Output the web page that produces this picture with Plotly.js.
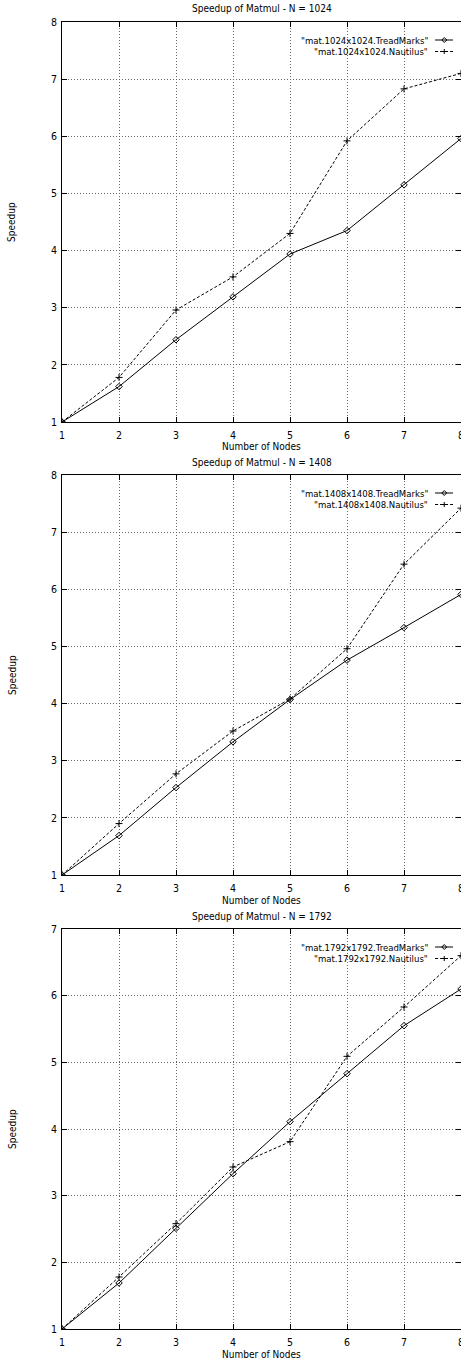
<!DOCTYPE html>
<html>
<head>
<meta charset="utf-8">
<script src="https://cdn.plot.ly/plotly-3.0.1.min.js"></script>
<style>
html,body{margin:0;padding:0;overflow:hidden;background:#fff;}
#chart{width:470px;height:1360px;}
</style>
</head>
<body>
<div id="chart"></div>
<script>
// ---- data ----
const nodes = [1, 2, 3, 4, 5, 6, 7, 8];
const xTickLabels = ["1", "2", "3", "4", "5", "6", "7", "8"];

const titles = ["Speedup of Matmul - N = 1024", "Speedup of Matmul - N = 1408", "Speedup of Matmul - N = 1792"];
const namesTreadMarks = ["\"mat.1024x1024.TreadMarks\"", "\"mat.1408x1408.TreadMarks\"", "\"mat.1792x1792.TreadMarks\""];
const namesNautilus = ["\"mat.1024x1024.Nautilus\"", "\"mat.1408x1408.Nautilus\"", "\"mat.1792x1792.Nautilus\""];

const tm1024 = [1, 1.62, 2.44, 3.19, 3.94, 4.35, 5.15, 5.96];
const na1024 = [1, 1.78, 2.96, 3.54, 4.30, 5.92, 6.83, 7.10];
const tm1408 = [1, 1.69, 2.53, 3.33, 4.07, 4.76, 5.33, 5.91];
const na1408 = [1, 1.90, 2.77, 3.52, 4.08, 4.96, 6.44, 7.42];
const tm1792 = [1, 1.69, 2.51, 3.33, 4.11, 4.83, 5.55, 6.10];
const na1792 = [1, 1.78, 2.58, 3.43, 3.81, 5.09, 5.83, 6.60];

const yMax = [8, 8, 7];
const xLabel = "Number of Nodes";
const yLabel = "Speedup";

// ---- layout helpers ----
const FONT = "'Liberation Sans Narrow', 'Arial Narrow', 'DejaVu Sans Condensed', 'Liberation Sans', Arial, sans-serif";
const H = 1360;
const panels = [
  {top: 22, bottom: 422},
  {top: 475, bottom: 875},
  {top: 929, bottom: 1329}
];
const tmSeries = [tm1024, tm1408, tm1792];
const naSeries = [na1024, na1408, na1792];

const traces = [];
const layout = {
  width: 470, height: H,
  margin: {l: 62, r: 9, t: 0, b: 0},
  paper_bgcolor: '#fff', plot_bgcolor: '#fff',
  showlegend: false,
  font: {family: FONT, size: 10, color: '#000'},
  annotations: [], shapes: []
};

function axisBase() {
  return {
    showline: true, mirror: 'ticks', linecolor: '#000', linewidth: 1,
    ticks: 'inside', ticklen: 5, tickcolor: '#000', tickwidth: 1,
    showgrid: true, gridcolor: '#666', griddash: '1px,2px', gridwidth: 1,
    zeroline: false, tickfont: {family: FONT, size: 10.5, color: '#000'},
    fixedrange: true
  };
}

panels.forEach((p, i) => {
  const k = i === 0 ? '' : String(i + 1);
  const xa = 'x' + k, ya = 'y' + k;
  const d0 = 1 - p.bottom / H, d1 = 1 - p.top / H;

  layout['xaxis' + k] = Object.assign(axisBase(), {
    domain: [0, 1], anchor: ya, range: [1, 8],
    tickvals: nodes, ticktext: xTickLabels, ticklabelstandoff: 3
  });
  const yt = [];
  for (let v = 1; v <= yMax[i]; v++) yt.push(v);
  layout['yaxis' + k] = Object.assign(axisBase(), {
    domain: [d0, d1], anchor: xa, range: [1, yMax[i]],
    tickvals: yt, ticklabelstandoff: 2
  });

  traces.push({
    x: nodes, y: tmSeries[i], xaxis: xa, yaxis: ya, name: namesTreadMarks[i],
    mode: 'lines+markers',
    line: {color: '#000', width: 1},
    marker: {symbol: 'diamond-open', size: 5, color: '#000', line: {width: 1, color: '#000'}}
  });
  traces.push({
    x: nodes, y: naSeries[i], xaxis: xa, yaxis: ya, name: namesNautilus[i],
    mode: 'lines+markers',
    line: {color: '#000', width: 1, dash: '3px,2px'},
    marker: {symbol: 'cross-thin-open', size: 5, color: '#000', line: {width: 1, color: '#000'}}
  });

  // subplot title
  layout.annotations.push({
    xref: 'paper', yref: 'paper', x: 0.5, y: 1 - (p.top - 13) / H,
    xanchor: 'center', yanchor: 'middle', showarrow: false,
    text: titles[i], font: {family: FONT, size: 10, color: '#000'}
  });
  // x axis title
  layout.annotations.push({
    xref: 'paper', yref: 'paper', x: 0.5, y: 1 - (p.bottom + 25) / H,
    xanchor: 'center', yanchor: 'middle', showarrow: false,
    text: xLabel, font: {family: FONT, size: 10, color: '#000'}
  });
  // y axis title
  layout.annotations.push({
    xref: 'paper', yref: 'paper', x: (12 - 62) / 399, y: 1 - ((p.top + p.bottom) / 2) / H,
    xanchor: 'center', yanchor: 'middle', showarrow: false, textangle: -90,
    text: yLabel, font: {family: FONT, size: 10, color: '#000'}
  });

  // gnuplot-style key (text right aligned, sample on the right)
  const rows = [
    {name: namesTreadMarks[i], dash: 'solid', mark: 'M-2.5,0L0,2.5L2.5,0L0,-2.5Z'},
    {name: namesNautilus[i], dash: '3px,2px', mark: 'M-2.5,0H2.5M0,-2.5V2.5'}
  ];
  rows.forEach((r, j) => {
    const yd = 1 - (18 + j * 11.5) / 400;
    layout.annotations.push({
      xref: xa + ' domain', yref: ya + ' domain', x: 0.922, y: yd,
      xanchor: 'right', yanchor: 'middle', showarrow: false,
      text: r.name, font: {family: FONT, size: 9.5, color: '#000'}
    });
    layout.shapes.push({
      type: 'line', xref: xa + ' domain', yref: ya + ' domain',
      x0: 0.935, x1: 0.98, y0: yd, y1: yd,
      line: {color: '#000', width: 1, dash: r.dash}
    });
    layout.shapes.push({
      type: 'path', xref: xa + ' domain', yref: ya + ' domain',
      xsizemode: 'pixel', ysizemode: 'pixel', xanchor: 0.958, yanchor: yd,
      path: r.mark, line: {color: '#000', width: 1}, fillcolor: 'rgba(0,0,0,0)'
    });
  });
});

Plotly.newPlot('chart', traces, layout, {staticPlot: true, displayModeBar: false});
</script>
</body>
</html>
